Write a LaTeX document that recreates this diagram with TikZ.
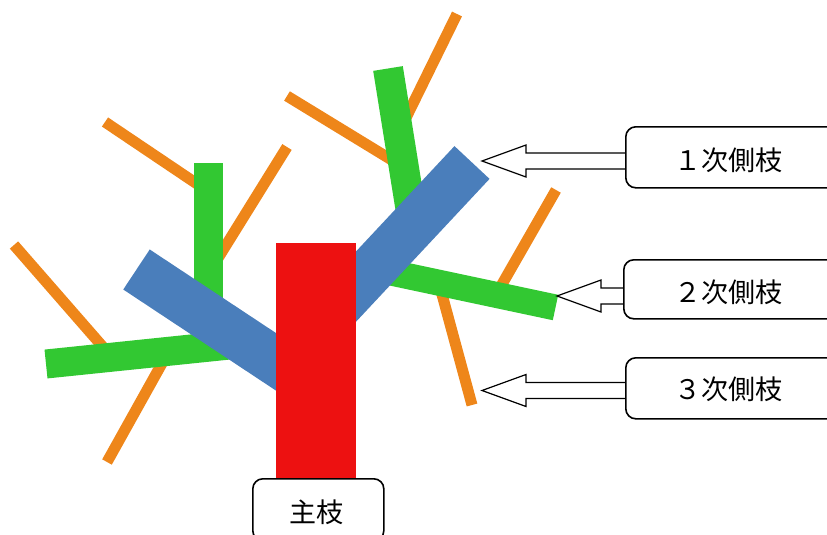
\documentclass[tikz,border=0pt]{standalone}
\usepackage{fontspec}
\newfontfamily\jpfont{Noto Sans CJK JP}
\usetikzlibrary{calc}
\definecolor{twig}{RGB}{238,134,26}
\definecolor{sidetwo}{RGB}{50,200,50}
\definecolor{sideone}{RGB}{74,126,187}
\definecolor{trunk}{RGB}{237,17,17}
\tikzset{
  orangebar/.style={draw=twig, line width=11pt, line cap=butt},
  greenbar/.style={draw=sidetwo, line width=29pt, line cap=butt},
  bluebar/.style={draw=sideone, line width=48pt, line cap=butt},
  labelbox/.style={draw=black, line width=1.6pt, rounded corners=10pt, fill=white, inner sep=0pt, anchor=north west},
  lbl/.style={inner sep=0pt, font=\jpfont\fontsize{27}{30}\selectfont},
  blockarrow/.style={draw=black, line width=1.2pt, line join=miter}
}
\begin{document}
\begin{tikzpicture}[x=1pt,y=-1pt]
\useasboundingbox (0,0) rectangle (827,535);
\clip (0,0) rectangle (827,535);
% third-order twigs (orange)
\draw[orangebar] (105,122) -- (215,196);
\draw[orangebar] (287,147) -- (215,263);
\draw[orangebar] (14,245) -- (110,355);
\draw[orangebar] (107,462) -- (170,349);
\draw[orangebar] (457,14) -- (400,130);
\draw[orangebar] (287,96) -- (400,165);
\draw[orangebar] (556,190) -- (497,293);
\draw[orangebar] (472,405) -- (440,287);
% second-order branches (green)
\draw[greenbar] (208.5,163) -- (208.5,310);
\draw[greenbar] (46,364) -- (249.9,342.9);
\draw[greenbar, line width=30pt] (388,68.5) -- (414.9,236.3);
\draw[greenbar, line width=26pt] (555.5,307.5) -- (379.5,270.1);
% first-order branches (blue)
\draw[bluebar] (136.5,269.5) -- (295,374.4);
\draw[bluebar] (472,162.5) -- (322,323);
% trunk (red)
\fill[trunk] (276,243) rectangle (356,480);
% label boxes
\node[labelbox, minimum width=240pt, minimum height=61pt] (b1) at (625,126) {};
\node[labelbox, minimum width=240pt, minimum height=59pt] (b2) at (623,259) {};
\node[labelbox, minimum width=240pt, minimum height=61pt] (b3) at (625,357) {};
\node[labelbox, minimum width=131pt, minimum height=62pt] (bm) at (252,478) {};
\node[lbl] (t1) at (728,160) {１次側枝};
\node[lbl] (t2) at (728,292.5) {２次側枝};
\node[lbl] (t3) at (728,389) {３次側枝};
\node[lbl] (tm) at (316.7,512) {主枝};
% arrow tips
\coordinate (a1) at (482,161);
\coordinate (a2) at (557,296);
\coordinate (a3) at (482,390.5);
% block arrows
\foreach \a/\b in {a1/b1, a2/b2, a3/b3}{
  \draw[blockarrow] ($(\b.west|-\a)+(0,-8)$) -- ($(\a)+(44,-8)$) -- ($(\a)+(44,-16)$) -- (\a)
     -- ($(\a)+(44,16)$) -- ($(\a)+(44,8)$) -- ($(\b.west|-\a)+(0,8)$);
}
\end{tikzpicture}
\end{document}
